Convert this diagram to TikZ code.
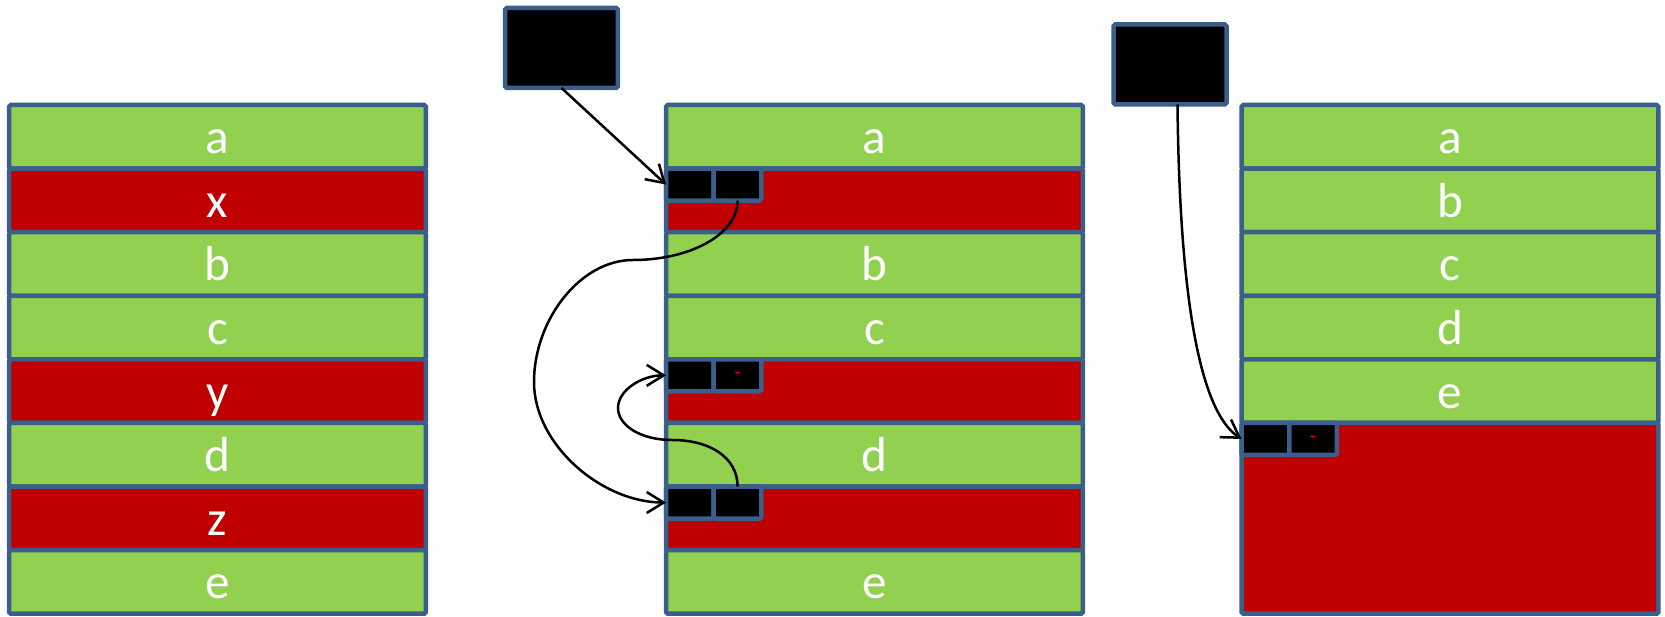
\documentclass[tikz,border=0pt]{standalone}
\usepackage{fontspec}
\setmainfont{Carlito}
\usepackage{tikz}
\usetikzlibrary{positioning}
\usetikzlibrary{arrows.meta}

\definecolor{edgeblue}{HTML}{3A5F8B}
\definecolor{usedgreen}{HTML}{92D050}
\definecolor{freered}{HTML}{C00000}

\tikzset{
  cell/.style={draw=edgeblue,line width=0.09cm,rounded corners=1pt,outer sep=0pt,
               minimum width=8.34cm,minimum height=1.272cm,inner sep=0pt,
               text height=19.3pt,text depth=0pt,
               text=white,font=\fontsize{28}{30}\selectfont},
  used/.style={cell,fill=usedgreen},
  hole/.style={cell,fill=freered},
  ptr/.style={draw=edgeblue,fill=black,line width=0.09cm,rounded corners=1pt,outer sep=0pt,
              minimum width=0.954cm,minimum height=0.64cm,inner sep=0pt,
              text=red,font=\fontsize{11}{11}\selectfont},
  head/.style={ptr,minimum width=2.26cm,minimum height=1.6cm},
  link/.style={->,line width=0.05cm}
}

\begin{document}
\begin{tikzpicture}[x=0.02cm,y=-0.02cm,>={Straight Barb[length=0.34cm,width=0.42cm]}]
  \useasboundingbox (0,0) rectangle (1665,617);

  % memory before
  \node[used,anchor=north] (la) at (217.5,105) {a};
  \node[hole] (lx) [below=0pt of la] {x};
  \node[used] (lb) [below=0pt of lx] {b};
  \node[used] (lc) [below=0pt of lb] {c};
  \node[hole] (ly) [below=0pt of lc] {y};
  \node[used] (ld) [below=0pt of ly] {d};
  \node[hole] (lz) [below=0pt of ld] {z};
  \node[used] (le) [below=0pt of lz] {e};

  % free list
  \node[used,anchor=north] (ma) at (874.5,105) {a};
  \node[hole] (mx) [below=0pt of ma] {};
  \node[used] (mb) [below=0pt of mx] {b};
  \node[used] (mc) [below=0pt of mb] {c};
  \node[hole] (my) [below=0pt of mc] {};
  \node[used] (md) [below=0pt of my] {d};
  \node[hole] (mz) [below=0pt of md] {};
  \node[used] (me) [below=0pt of mz] {e};

  \node[ptr,anchor=north west] (mx1) at (mx.north west) {};
  \node[ptr] (mx2) [right=0pt of mx1] {};
  \node[ptr,anchor=north west] (my1) at (my.north west) {};
  \node[ptr] (my2) [right=0pt of my1] {-};
  \node[ptr,anchor=north west] (mz1) at (mz.north west) {};
  \node[ptr] (mz2) [right=0pt of mz1] {};

  \node[head] (mhead) at (561.5,48) {};

  % compacted
  \node[used,anchor=north] (ra) at (1450,105) {a};
  \node[used] (rb) [below=0pt of ra] {b};
  \node[used] (rc) [below=0pt of rb] {c};
  \node[used] (rd) [below=0pt of rc] {d};
  \node[used] (re) [below=0pt of rd] {e};
  \node[hole,minimum height=3.816cm] (rfree) [below=0pt of re] {};

  \node[ptr,anchor=north west] (rf1) at (rfree.north west) {};
  \node[ptr] (rf2) [right=0pt of rf1] {-};

  \node[head] (rhead) at (1170,64.5) {};

  \coordinate (loopA) at (633,260);
  \coordinate (loopB) at (534,382);
  \coordinate (hookA) at (672,440);
  \coordinate (hookB) at (618,408);

  \draw[link] (mhead.south) -- (mx1.west);
  \draw[link] (mx2.south) .. controls +(0,34) and +(57,0) .. (loopA)
              .. controls +(-53,0) and +(0,-62) .. (loopB)
              .. controls +(0,63) and +(-64,0) .. (mz1.west);
  \draw[link] (mz2.north) .. controls +(0,-29) and +(38,0) .. (hookA)
              .. controls +(-32,0) and +(0,17) .. (hookB)
              .. controls +(0,-18) and +(-24,0) .. (my1.west);
  \draw[link] ([xshift=0.15cm]rhead.south) .. controls +(2,195) and +(-41.5,-27) .. (rf1.west);
\end{tikzpicture}
\end{document}
